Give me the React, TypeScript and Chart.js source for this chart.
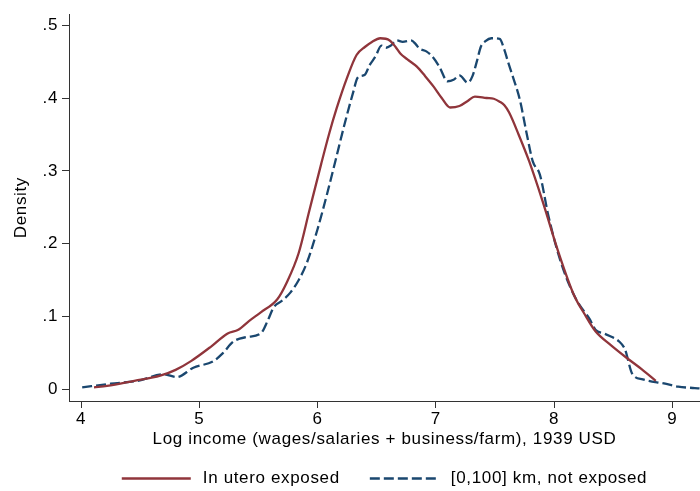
import React, { useEffect, useRef } from "react";
import { Chart, registerables } from "chart.js";

Chart.register(...registerables);

// ---- Data ----
const redX = [4.11, 4.22, 4.45, 4.67, 4.80, 4.93, 5.10, 5.24, 5.33, 5.42, 5.52, 5.66, 5.74, 5.84, 5.93, 6.03, 6.10, 6.16, 6.25, 6.33, 6.40, 6.46, 6.53, 6.61, 6.66, 6.70, 6.76, 6.84, 6.91, 6.98, 7.05, 7.12, 7.20, 7.27, 7.33, 7.43, 7.49, 7.54, 7.58, 7.62, 7.70, 7.79, 7.90, 8.04, 8.17, 8.26, 8.35, 8.48, 8.61, 8.74, 8.86];
const redY = [0.003, 0.005, 0.012, 0.019, 0.027, 0.039, 0.059, 0.077, 0.082, 0.094, 0.106, 0.124, 0.147, 0.187, 0.245, 0.309, 0.352, 0.385, 0.428, 0.459, 0.470, 0.477, 0.482, 0.479, 0.470, 0.461, 0.453, 0.443, 0.430, 0.416, 0.400, 0.387, 0.389, 0.396, 0.402, 0.400, 0.399, 0.395, 0.390, 0.380, 0.350, 0.313, 0.260, 0.187, 0.129, 0.103, 0.080, 0.061, 0.044, 0.028, 0.012];

const blueX = [4.01, 4.25, 4.48, 4.70, 4.81, 4.95, 5.12, 5.20, 5.29, 5.40, 5.52, 5.58, 5.63, 5.70, 5.77, 5.84, 5.91, 6.00, 6.08, 6.15, 6.23, 6.30, 6.34, 6.40, 6.44, 6.49, 6.54, 6.58, 6.62, 6.67, 6.72, 6.79, 6.83, 6.86, 6.92, 6.97, 7.03, 7.10, 7.15, 7.20, 7.27, 7.31, 7.35, 7.38, 7.42, 7.47, 7.54, 7.58, 7.61, 7.65, 7.71, 7.77, 7.82, 7.88, 7.95, 8.02, 8.10, 8.20, 8.30, 8.35, 8.42, 8.49, 8.55, 8.60, 8.66, 8.75, 8.94, 9.05, 9.19, 9.23];
const blueY = [0.003, 0.008, 0.012, 0.021, 0.017, 0.030, 0.039, 0.050, 0.066, 0.072, 0.077, 0.095, 0.113, 0.122, 0.133, 0.150, 0.174, 0.220, 0.268, 0.313, 0.365, 0.407, 0.428, 0.432, 0.445, 0.457, 0.472, 0.469, 0.472, 0.479, 0.477, 0.479, 0.474, 0.468, 0.464, 0.457, 0.443, 0.423, 0.425, 0.431, 0.421, 0.430, 0.452, 0.470, 0.478, 0.482, 0.481, 0.466, 0.450, 0.430, 0.398, 0.350, 0.313, 0.295, 0.240, 0.195, 0.155, 0.120, 0.097, 0.082, 0.077, 0.072, 0.066, 0.055, 0.022, 0.014, 0.008, 0.004, 0.002, 0.0015];

const xTicks = [4, 5, 6, 7, 8, 9];
const yTicks = [0, 0.1, 0.2, 0.3, 0.4, 0.5];
const yTickLabels = ["0", ".1", ".2", ".3", ".4", ".5"];
const seriesLabels = ["In utero exposed", "[0,100] km, not exposed"];
const xTitle = "Log income (wages/salaries + business/farm), 1939 USD";
const yTitle = "Density";

// ---- Styles ----
const RED = "rgb(144,53,59)";
const BLUE = "rgb(26,71,111)";
const FONT = "'Liberation Sans', Arial, sans-serif";
const FONT_SIZE = 17;
const LS = "0.65px";
const AXIS_COLOR = "#333";

const letterSpacingPlugin = {
  id: "letterSpacing",
  beforeUpdate(chart: any) {
    chart.ctx.letterSpacing = LS;
  },
  beforeDraw(chart: any) {
    chart.ctx.letterSpacing = LS;
  },
};

const legendPlugin = {
  id: "stataLegend",
  afterDraw(chart: any) {
    const ctx = chart.ctx;
    const area = chart.chartArea;
    ctx.save();
    ctx.letterSpacing = LS;
    ctx.font = `${FONT_SIZE}px ${FONT}`;
    const lineW = 69;
    const gapText = 12;
    const gapItem = 30;
    const items = chart.data.datasets.map((ds: any) => ({
      label: ds.label,
      color: ds.borderColor,
      dash: ds.borderDash || [],
      w: ctx.measureText(ds.label).width,
    }));
    const total = items.reduce(
      (s: number, it: any, i: number) => s + lineW + gapText + it.w + (i ? gapItem : 0),
      0
    );
    let x = (area.left + area.right) / 2 - total / 2;
    const y = chart.height - 12.5;
    items.forEach((it: any) => {
      ctx.beginPath();
      ctx.setLineDash(it.dash);
      ctx.strokeStyle = it.color;
      ctx.lineWidth = 2.3;
      ctx.moveTo(x, y);
      ctx.lineTo(x + lineW, y);
      ctx.stroke();
      ctx.setLineDash([]);
      ctx.fillStyle = "#000";
      ctx.textBaseline = "middle";
      ctx.textAlign = "left";
      ctx.fillText(it.label, x + lineW + gapText, y);
      x += lineW + gapText + it.w + gapItem;
    });
    ctx.restore();
  },
};

export default function App() {
  const canvasRef = useRef<HTMLCanvasElement | null>(null);

  useEffect(() => {
    document.body.style.margin = "0";
    const canvas = canvasRef.current;
    if (!canvas) return;
    const font = { family: FONT, size: FONT_SIZE };
    const chart = new Chart(canvas, {
      type: "line",
      data: {
        datasets: [
          {
            label: seriesLabels[0],
            data: redX.map((x, i) => ({ x, y: redY[i] })),
            borderColor: RED,
            borderWidth: 2.3,
            pointRadius: 0,
            cubicInterpolationMode: "monotone",
            fill: false,
          },
          {
            label: seriesLabels[1],
            data: blueX.map((x, i) => ({ x, y: blueY[i] })),
            borderColor: BLUE,
            borderWidth: 2.3,
            borderDash: [10, 4],
            pointRadius: 0,
            cubicInterpolationMode: "monotone",
            fill: false,
          },
        ],
      },
      options: {
        responsive: false,
        animation: false,
        devicePixelRatio: 1,
        layout: { padding: { top: 5, right: 0, bottom: 30, left: 0 } },
        plugins: {
          legend: { display: false },
          tooltip: { enabled: false },
        },
        scales: {
          x: {
            type: "linear",
            min: 3.8985,
            max: 9.234,
            afterBuildTicks: (s: any) => {
              s.ticks = xTicks.map((v) => ({ value: v }));
            },
            afterFit: (s: any) => {
              s.height = 60;
            },
            ticks: {
              font,
              color: "#000",
              padding: 1.5,
              maxRotation: 0,
              autoSkip: false,
              callback: (v: any) => String(v),
            },
            grid: {
              drawOnChartArea: false,
              drawTicks: true,
              tickLength: 7,
              color: AXIS_COLOR,
            },
            border: { display: true, color: AXIS_COLOR, width: 1 },
            title: {
              display: true,
              text: xTitle,
              font,
              color: "#000",
              padding: { top: 0, bottom: 11.8 },
            },
          },
          y: {
            type: "linear",
            min: -0.0157,
            max: 0.515,
            afterBuildTicks: (s: any) => {
              s.ticks = yTicks.map((v) => ({ value: v }));
            },
            afterFit: (s: any) => {
              s.width = 69;
            },
            ticks: {
              font,
              color: "#000",
              padding: 4,
              autoSkip: false,
              callback: (_v: any, i: number) => yTickLabels[i],
            },
            grid: {
              drawOnChartArea: false,
              drawTicks: true,
              tickLength: 7,
              color: AXIS_COLOR,
            },
            border: { display: true, color: AXIS_COLOR, width: 1 },
            title: {
              display: true,
              text: yTitle,
              font,
              color: "#000",
              padding: { top: 11.3, bottom: 0 },
            },
          },
        },
      },
      plugins: [letterSpacingPlugin, legendPlugin],
    } as any);
    return () => chart.destroy();
  }, []);

  return (
    <div style={{ width: 700, height: 491, background: "#fff" }}>
      <canvas
        ref={canvasRef}
        width={700}
        height={491}
        style={{ display: "block", width: 700, height: 491 }}
      />
    </div>
  );
}
